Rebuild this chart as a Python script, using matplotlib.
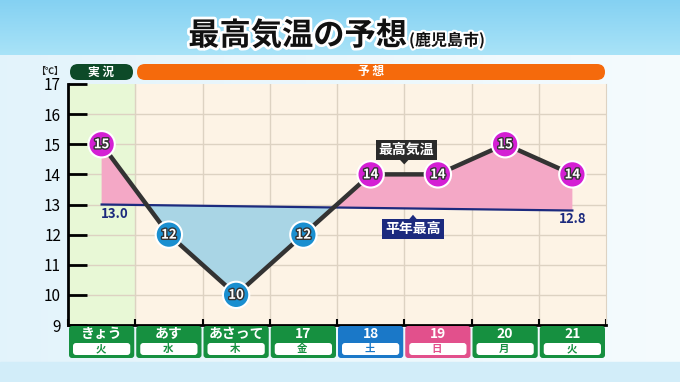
import matplotlib.pyplot as plt
import matplotlib.patheffects as pe
from matplotlib.patches import FancyBboxPatch, Polygon
import numpy as np

plt.rcParams['font.family'] = ['Noto Sans CJK JP', 'DejaVu Sans']

# data
days = ['きょう', 'あす', 'あさって', '17', '18', '19', '20', '21']
weekdays = ['火', '水', '木', '金', '土', '日', '月', '火']
high_temp = [15, 12, 10, 12, 14, 14, 15, 14]
normal_days = [0, 7]
normal_high = [13.0, 12.8]
day_colors = ['#169040', '#169040', '#169040', '#169040', '#1a78c8', '#e2508c', '#169040', '#169040']

W, H = 680, 382
fig = plt.figure(figsize=(6.8, 3.82), dpi=100)

# background (pixel coords)
bg = fig.add_axes([0, 0, 1, 1], zorder=0)
bg.set_xlim(0, W)
bg.set_ylim(H, 0)
bg.axis('off')
top = np.linspace(0, 1, 50)[:, None] * np.ones((1, 2))
header = np.dstack([0.52 + 0.14 * top, 0.82 + 0.07 * top, 0.95 + 0.02 * top])
bg.imshow(header, extent=[0, W, 55, 0], aspect='auto')
body = np.linspace(0, 1, 100)[None, :] * np.ones((2, 1))
body_img = np.dstack([0.89 + 0.07 * body, 0.955 + 0.03 * body, 0.985 + 0.01 * body])
bg.imshow(body_img, extent=[0, W, 362, 55], aspect='auto')
bg.add_patch(plt.Rectangle((0, 362), W, 20, color='#d2edf9'))

# main chart
x0, x1, y_top, y_bot = 68, 606, 84, 325
ax = fig.add_axes([x0 / W, 1 - y_bot / H, (x1 - x0) / W, (y_bot - y_top) / H], zorder=1)
ax.set_xlim(-0.5, 7.5)
ax.set_ylim(9, 17)
ax.set_facecolor('#fdf3e5')
ax.axvspan(-0.5, 0.5, color='#e8f8d6', zorder=0)
for b in np.arange(0.5, 7.5, 1):
    ax.axvline(b, color='#ddd2c2', lw=1, zorder=0.5)
for yv in range(10, 17):
    ax.axhline(yv, color='#ddd2c2', lw=1, zorder=0.5)

x = np.arange(len(high_temp))
xf = np.linspace(0, 7, 701)
tf = np.interp(xf, x, high_temp)
nf = np.interp(xf, normal_days, normal_high)
ax.fill_between(xf, tf, nf, where=tf >= nf, interpolate=True, color='#f4a8c6', lw=0, zorder=1)
ax.fill_between(xf, tf, nf, where=tf < nf, interpolate=True, color='#a9d5e5', lw=0, zorder=1)
ax.plot(normal_days, normal_high, color='#1c2a7e', lw=1.6, zorder=2)
ax.plot(x, high_temp, color='#333333', lw=3.2, zorder=3, solid_capstyle='round')

normal_at = np.interp(x, normal_days, normal_high)
mcols = ['#d41fd4' if t > n else '#1a8fd0' for t, n in zip(high_temp, normal_at)]
ax.scatter(x, high_temp, s=360, c=mcols, edgecolors='white', linewidths=1.5, zorder=4)
for xi, t in zip(x, high_temp):
    ax.text(xi, t, str(t), ha='center', va='center', fontsize=9.5, fontweight='bold',
            color='white', zorder=5,
            path_effects=[pe.withStroke(linewidth=2, foreground='#333333')])

ax.text(normal_days[0] + 0.2, normal_high[0] - 0.3, '%.1f' % normal_high[0], ha='center', va='center',
        fontsize=9.5, color='#1c2a7e', fontweight='bold', zorder=5)
ax.text(normal_days[1], normal_high[1] - 0.28, '%.1f' % normal_high[1], ha='center', va='center',
        fontsize=9.5, color='#1c2a7e', fontweight='bold', zorder=5)

# callouts
ax.text(4.53, 14.8, '最高気温', ha='center', va='center', fontsize=10, fontweight='bold',
        color='white', zorder=6, bbox=dict(boxstyle='square,pad=0.2', fc='#2a2a2a', ec='none'))
ax.add_patch(Polygon([[4.42, 14.52], [4.58, 14.52], [4.5, 14.33]], closed=True, fc='#2a2a2a', ec='none', zorder=6))
ax.text(4.63, 12.18, '平年最高', ha='center', va='center', fontsize=10, fontweight='bold',
        color='white', zorder=6, bbox=dict(boxstyle='square,pad=0.2', fc='#1c2a7e', ec='none'))
ax.add_patch(Polygon([[4.55, 12.45], [4.71, 12.45], [4.63, 12.66]], closed=True, fc='#1c2a7e', ec='none', zorder=6))

ax.set_yticks(range(9, 18))
ax.tick_params(axis='y', direction='in', length=14, width=2, labelsize=11, pad=5)
ax.set_xticks(np.arange(-0.5, 8, 1))
ax.tick_params(axis='x', direction='in', length=4, width=1.5, labelbottom=False)
ax.spines['top'].set_visible(False)
ax.spines['left'].set_linewidth(2)
ax.spines['bottom'].set_linewidth(2)
ax.spines['right'].set_color('#ddd2c2')

# overlay (pixel coords)
ov = fig.add_axes([0, 0, 1, 1], zorder=2)
ov.set_xlim(0, W)
ov.set_ylim(H, 0)
ov.axis('off')
ov.patch.set_alpha(0)

ov.text(407, 36, '最高気温の予想', ha='right', va='center', fontsize=22.5, fontweight='bold',
        color='#111111', path_effects=[pe.withStroke(linewidth=4, foreground='white')])
ov.text(409, 40, '(鹿児島市)', ha='left', va='center', fontsize=11.5, fontweight='bold',
        color='#111111', path_effects=[pe.withStroke(linewidth=3, foreground='white')])

ov.text(50, 71, '【℃】', ha='center', va='center', fontsize=6.5, fontweight='bold', color='#222222')
ov.add_patch(FancyBboxPatch((70, 64), 63, 16, boxstyle='round,pad=0,rounding_size=8', fc='#0d4a28', ec='none'))
ov.text(101, 72, '実 況', ha='center', va='center', fontsize=8.5, fontweight='bold', color='white')
ov.add_patch(FancyBboxPatch((137, 64), 468, 16, boxstyle='round,pad=0,rounding_size=8', fc='#f56a0c', ec='none'))
ov.text(371, 72, '予 想', ha='center', va='center', fontsize=8.5, fontweight='bold', color='white')

cw = (x1 - x0) / len(days)
for i, (d, wd, c) in enumerate(zip(days, weekdays, day_colors)):
    left = x0 + i * cw + 1
    ov.add_patch(FancyBboxPatch((left, 326), cw - 2, 32, boxstyle='round,pad=0,rounding_size=3', fc=c, ec='none'))
    ov.add_patch(FancyBboxPatch((left + 4, 343), cw - 10, 12, boxstyle='round,pad=0,rounding_size=3', fc='white', ec='none'))
    ov.text(left + (cw - 2) / 2, 334, d, ha='center', va='center', fontsize=10, fontweight='bold', color='white')
    ov.text(left + (cw - 2) / 2 - 1, 349, wd, ha='center', va='center', fontsize=7.5, fontweight='bold', color=c)

fig.savefig('out.png', dpi=100)
